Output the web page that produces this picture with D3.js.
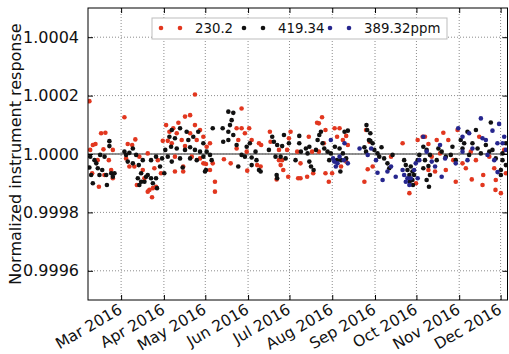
<!DOCTYPE html>
<html>
<head>
<meta charset="utf-8">
<script src="https://cdn.jsdelivr.net/npm/d3@7"></script>
<style>
  html, body { margin: 0; padding: 0; background: #fff; }
  svg { display: block; font-family: "DejaVu Sans", sans-serif; }
</style>
</head>
<body>
<svg id="chart" width="509" height="354"></svg>
<script>
// Normalized instrument response over 2016, three reference gases.
// Each point: [day of year 2016 (Jan 1 = 1), normalized response]
const seriesNames = ["230.2", "419.34", "389.32ppm"];

const gas230 = [
  [38.0,1.000181],[46.5,1.000071],[49.6,1.000073],[40.5,1.000031],[42.4,1.000034],[38.6,1.000014],[55.0,1.000014],
  [48.2,1.000016],[40.0,0.999934],[44.9,0.999888],[53.8,0.999945],[55.0,0.999917],[48.9,0.999928],[44.0,0.999979],
  [52.1,0.999979],
  [63.4,1.000126],[65.8,1.000034],[71.3,1.000050],[69.0,1.000031],[80.3,1.000002],[64.6,0.999985],[74.2,0.999991],
  [67.0,0.999957],[76.7,0.999945],[72.4,0.999894],[81.5,0.999877],[80.3,0.999871],[84.0,0.999883],[83.4,0.999852],
  [86.3,0.999888],[87.6,0.999979],[89.9,0.999934],[91.2,1.000045],[94.8,1.000045],[93.6,1.000099],[96.0,1.000076],
  [85.1,0.999951],[70.6,0.999957],[77.9,0.999917],
  [114.5,1.000204],[98.8,1.000088],[102.5,1.000107],[107.3,1.000128],[111.0,1.000133],[114.5,1.000099],[118.2,1.000082],
  [111.0,1.000071],[101.3,1.000071],[104.9,1.000048],[97.7,1.000037],[107.3,1.000027],[115.8,1.000048],[120.6,1.000059],
  [123.0,1.000025],[125.4,1.000037],[100.0,0.999991],[106.0,0.999957],[106.0,0.999940],[120.6,0.999968],[122.5,0.999966],
  [127.4,0.999968],[125.4,0.999945],[129.0,0.999905],[129.0,0.999871],[135.5,0.999982],[140.4,0.999968],[144.7,1.000088],
  [148.3,1.000156],[148.3,1.000088],[145.9,1.000048],[150.7,1.000071],[153.8,1.000088],[152.0,1.000008],[155.6,1.000048],
  [152.4,0.999943],[144.7,1.000019],[112.2,0.999991],[118.2,0.999985],[100.0,0.999940],
  [160.9,1.000037],[162.5,1.000031],[159.6,0.999962],[162.1,0.999957],[168.8,1.000076],[169.3,1.000042],[175.4,1.000014],
  [175.4,0.999979],[176.6,0.999962],[178.5,0.999945],[177.7,0.999979],[182.1,0.999922],[181.3,1.000014],[182.6,1.000054],
  [183.8,1.000076],[188.6,1.000008],[191.0,0.999968],[189.3,0.999917],[191.0,0.999917],[195.8,0.999922],[200.2,0.999934],
  [197.0,1.000059],[199.4,1.000008],[203.0,1.000107],[206.6,1.000126],[204.3,1.000105],[209.1,1.000082],[207.9,1.000037],
  [211.5,0.999905],[209.1,0.999934],[213.9,0.999934],[215.7,1.000088],[217.5,1.000059],[204.3,1.000008],[173.7,0.999913],
  [219.3,1.000088],[224.1,1.000062],[221.7,1.000048],[225.3,1.000031],[220.4,0.999957],[224.1,0.999974],[238.5,1.000082],
  [241.0,1.000042],[239.7,0.999948],[237.3,0.999905],[243.3,0.999957],[265.0,1.000037],[275.9,1.000048],[269.9,0.999866],
  [274.7,0.999900],[256.6,0.999991],[279.5,1.000059],
  [294.5,1.000073],[298.1,1.000048],[289.7,1.000048],[283.7,1.000034],[281.2,1.000059],[286.1,0.999991],[292.1,1.000002],
  [288.5,0.999940],[283.7,0.999945],[296.3,0.999945],[303.5,0.999905],[308.4,0.999968],[310.8,0.999951],[314.4,1.000008],
  [315.1,0.999913],[320.5,1.000059],[323.4,0.999928],[322.9,0.999894],[318.1,0.999979],[327.8,0.999991],[331.4,0.999951],
  [332.5,0.999911],[336.2,0.999866],[338.6,1.000014],[339.8,0.999934],[304.8,1.000082],[301.7,0.999979],[332.3,0.999877]
];

const gas419 = [
  [52.5,1.000044],[52.5,1.000027],[38.6,0.999991],[41.7,0.999979],[45.8,0.999997],[49.0,0.999991],[38.0,0.999954],
  [44.1,0.999951],[47.3,0.999945],[50.2,0.999928],[53.8,0.999934],[56.2,0.999934],[40.5,0.999900],[50.7,0.999894],
  [39.3,0.999928],[45.3,0.999928],[55.0,0.999922],[43.0,0.999968],
  [63.4,1.000008],[67.0,1.000004],[64.6,0.999997],[69.5,1.000019],[71.9,0.999997],[65.8,0.999974],[69.5,0.999968],
  [73.8,0.999962],[75.5,0.999934],[73.1,0.999917],[75.5,0.999905],[74.2,0.999894],[79.1,0.999922],[77.9,0.999905],
  [80.3,0.999928],[82.7,0.999917],[84.0,0.999900],[86.3,0.999917],[87.0,0.999883],[82.7,0.999979],[86.3,0.999991],
  [89.2,0.999957],[92.3,0.999934],[93.0,1.000014],[96.0,1.000059],[94.8,0.999991],[90.7,0.999985],[97.2,1.000025],
  [76.7,0.999979],
  [97.7,1.000082],[103.7,1.000088],[108.5,1.000076],[116.9,1.000076],[100.0,1.000054],[109.7,1.000048],[113.3,1.000059],
  [120.6,1.000037],[101.3,1.000019],[107.3,1.000014],[111.0,1.000023],[114.5,1.000014],[118.2,1.000008],[123.0,1.000008],
  [125.4,0.999997],[97.7,0.999974],[103.7,0.999985],[111.0,0.999985],[115.8,0.999979],[120.6,0.999991],[105.6,0.999954],
  [122.5,0.999945],[127.4,1.000088],[134.6,1.000088],[135.0,1.000042],[138.7,1.000145],[142.3,1.000141],[141.1,1.000116],
  [139.9,1.000099],[138.7,1.000076],[142.3,1.000065],[138.7,1.000048],[144.7,1.000031],[152.0,1.000025],[154.3,1.000037],
  [148.3,0.999997],[150.7,0.999991],[155.6,0.999988],[145.9,0.999957],[155.6,0.999962],[121.8,0.999940],[126.6,0.999979],
  [158.4,1.000008],[159.1,0.999979],[160.9,0.999945],[162.1,0.999940],[168.1,1.000014],[170.5,1.000059],[171.7,1.000042],
  [174.1,1.000031],[172.9,0.999991],[176.6,0.999991],[180.2,0.999985],[179.0,1.000065],[177.7,1.000027],[173.7,0.999928],
  [174.1,0.999917],[182.6,1.000037],[190.1,1.000062],[190.1,1.000037],[191.3,1.000008],[194.9,1.000019],[196.1,1.000002],
  [197.4,0.999974],[198.6,0.999957],[200.5,0.999945],[197.4,1.000025],[202.2,1.000014],[203.4,1.000048],[204.6,1.000065],
  [205.8,1.000076],[207.0,1.000037],[208.2,1.000019],[210.6,1.000008],[213.0,1.000002],[211.8,0.999979],[215.9,1.000025],
  [217.4,0.999979],[187.4,0.999979],
  [219.3,1.000019],[222.9,1.000076],[225.3,1.000080],[221.7,1.000002],[224.1,0.999985],[220.4,0.999979],[219.9,0.999940],
  [238.8,1.000099],[239.3,1.000082],[241.6,1.000071],[240.6,1.000048],[241.6,1.000045],[243.3,1.000037],[237.3,1.000023],
  [238.5,1.000008],[244.5,1.000014],[246.8,1.000002],[249.7,1.000023],[248.1,0.999991],[251.6,0.999985],[254.0,0.999968],
  [255.3,0.999951],[257.7,0.999997],[266.1,0.999979],[267.3,0.999962],[268.5,0.999945],[270.9,0.999957],[272.1,0.999940],
  [273.3,0.999928],[269.9,0.999928],[272.1,0.999911],[275.9,0.999979],[277.1,0.999997],[270.1,0.999905],[272.5,0.999894],
  [280.0,1.000025],[282.4,1.000014],[284.8,0.999997],[281.2,0.999979],[283.7,0.999959],[280.0,0.999951],[284.8,0.999928],
  [282.4,0.999911],[284.1,0.999888],[290.9,1.000019],[293.3,1.000008],[289.7,0.999979],[296.3,0.999991],[301.1,1.000025],
  [299.9,0.999997],[303.5,0.999979],[307.1,1.000048],[309.6,1.000037],[308.4,1.000019],[312.0,1.000076],[318.1,1.000082],
  [315.6,1.000037],[319.3,1.000019],[313.2,0.999997],[321.7,1.000002],[325.3,1.000031],[327.8,1.000008],[328.9,1.000108],
  [330.1,1.000014],[332.5,0.999985],[336.2,0.999945],[337.4,0.999979],[337.4,1.000002],[339.8,1.000037],[339.8,0.999962],
  [336.2,0.999928]
];

const gas389 = [
  [213.0,1.000048],[214.6,0.999985],[216.6,0.999957],[215.4,0.999974],[217.8,0.999968],
  [222.9,1.000037],[219.3,0.999991],[222.4,0.999979],[225.3,0.999968],[233.8,1.000019],[242.2,1.000019],[239.7,0.999997],
  [245.7,0.999979],[246.8,0.999936],[250.5,0.999911],[254.0,0.999940],[260.0,0.999922],[256.6,0.999957],[265.0,0.999945],
  [266.1,0.999928],[268.5,0.999917],[270.9,0.999917],[267.3,0.999905],[269.9,0.999894],[273.3,0.999945],[274.5,0.999968],
  [277.1,0.999979],[275.9,0.999917],
  [280.0,1.000059],[282.4,1.000008],[286.1,0.999974],[292.1,1.000031],[293.3,0.999922],[295.8,0.999985],[305.3,1.000088],
  [308.4,1.000059],[313.2,1.000071],[308.4,1.000008],[312.0,0.999979],[315.6,1.000019],[321.7,1.000122],[322.9,1.000054],
  [325.3,1.000048],[326.5,0.999997],[330.1,1.000080],[334.9,1.000103],[333.7,1.000037],[338.6,1.000059],[331.4,0.999979],
  [337.4,1.000037],[303.5,0.999968],[288.5,0.999957],[339.8,1.000014],[333.8,0.999938]
];

const seriesColors = ["#e2371f", "#111111", "#26268e"];
const yTickValues = [0.9996, 0.9998, 1.0000, 1.0002, 1.0004];
const yDomain = [0.9995, 1.0005];
const xDomain = [new Date(2016, 1, 6), new Date(2016, 11, 6)];
const referenceLevel = 1.0;

const svg = d3.select("#chart");
const plot = { left: 88, top: 8, right: 507.5, bottom: 300 };

const x = d3.scaleTime().domain(xDomain).range([plot.left, plot.right]);
const y = d3.scaleLinear().domain(yDomain).range([plot.bottom, plot.top]);

const jan1 = new Date(2016, 0, 1).getTime();
const toDate = doy => new Date(jan1 + (doy - 1) * 864e5);

const monthTicks = d3.timeMonth.every(1).range(xDomain[0], xDomain[1]);

// dotted grid
const grid = svg.append("g");
grid.selectAll("line.gx").data(monthTicks).join("line")
  .attr("x1", d => x(d)).attr("x2", d => x(d))
  .attr("y1", plot.top).attr("y2", plot.bottom)
  .attr("stroke", "#8c8c8c").attr("stroke-width", 1).attr("stroke-dasharray", "1,2");
grid.selectAll("line.gy").data(yTickValues).join("line")
  .attr("x1", plot.left).attr("x2", plot.right)
  .attr("y1", d => y(d)).attr("y2", d => y(d))
  .attr("stroke", "#8c8c8c").attr("stroke-width", 1).attr("stroke-dasharray", "1,2");

// reference line at unity
svg.append("line")
  .attr("x1", plot.left).attr("x2", plot.right)
  .attr("y1", y(referenceLevel)).attr("y2", y(referenceLevel))
  .attr("stroke", "#6f6f6f").attr("stroke-width", 1.6);

// points
svg.append("clipPath").attr("id", "plotclip").append("rect")
  .attr("x", plot.left).attr("y", plot.top)
  .attr("width", plot.right - plot.left).attr("height", plot.bottom - plot.top);

const pts = svg.append("g").attr("clip-path", "url(#plotclip)");
[gas230, gas419, gas389].forEach((series, i) => {
  pts.append("g").selectAll("circle").data(series).join("circle")
    .attr("cx", d => x(toDate(d[0])))
    .attr("cy", d => y(d[1]))
    .attr("r", 2.3)
    .attr("fill", seriesColors[i]);
});

// axes (ticks pointing inward, classic style)
const yAxisL = d3.axisLeft(y).tickValues(yTickValues).tickFormat(d3.format(".4f")).tickSizeInner(-5).tickSizeOuter(0).tickPadding(9);
const yAxisR = d3.axisRight(y).tickValues(yTickValues).tickFormat("").tickSizeInner(-5).tickSizeOuter(0);
const xAxisB = d3.axisBottom(x).tickValues(monthTicks).tickFormat(d3.timeFormat("%b %Y")).tickSizeInner(-5).tickSizeOuter(0);
const xAxisT = d3.axisTop(x).tickValues(monthTicks).tickFormat("").tickSizeInner(-5).tickSizeOuter(0);

const gL = svg.append("g").attr("transform", `translate(${plot.left},0)`).call(yAxisL);
svg.append("g").attr("transform", `translate(${plot.right},0)`).call(yAxisR);
const gB = svg.append("g").attr("transform", `translate(0,${plot.bottom})`).call(xAxisB);
svg.append("g").attr("transform", `translate(0,${plot.top})`).call(xAxisT);

svg.selectAll(".domain").remove();
svg.selectAll(".tick line").attr("stroke", "#000").attr("stroke-width", 1);

gL.selectAll("text")
  .attr("font-size", 16).attr("font-family", "DejaVu Sans").attr("fill", "#111");

gB.selectAll("text")
  .attr("font-size", 15.5).attr("font-family", "DejaVu Sans").attr("fill", "#111")
  .attr("text-anchor", "end")
  .attr("x", 0).attr("y", 0).attr("dy", "0.72em")
  .attr("transform", "translate(-4,3) rotate(-30)");

// frame
svg.append("rect")
  .attr("x", plot.left).attr("y", plot.top)
  .attr("width", plot.right - plot.left).attr("height", plot.bottom - plot.top)
  .attr("fill", "none").attr("stroke", "#000").attr("stroke-width", 1);

// y label
svg.append("text")
  .attr("transform", `translate(15,${(plot.top + plot.bottom) / 2}) rotate(-90)`)
  .attr("text-anchor", "middle").attr("dominant-baseline", "central")
  .attr("font-size", 16).attr("fill", "#111")
  .text("Normalized instrument response");

// legend
const legend = svg.append("g").attr("transform", "translate(152,18)");
legend.append("rect").attr("x", 0).attr("y", 0).attr("width", 295).attr("height", 21)
  .attr("fill", "#fff").attr("stroke", "#bdbdbd").attr("stroke-width", 1);
const itemX = [9, 92, 178];
seriesNames.forEach((name, i) => {
  const g = legend.append("g").attr("transform", `translate(${itemX[i]},10)`);
  g.append("circle").attr("cx", 0).attr("cy", 0).attr("r", 2.3).attr("fill", seriesColors[i]);
  g.append("circle").attr("cx", 19).attr("cy", 0).attr("r", 2.3).attr("fill", seriesColors[i]);
  g.append("text").attr("x", 34).attr("y", 0).attr("dominant-baseline", "central")
    .attr("font-size", 13.3).attr("fill", "#111").text(name);
});
</script>
</body>
</html>
